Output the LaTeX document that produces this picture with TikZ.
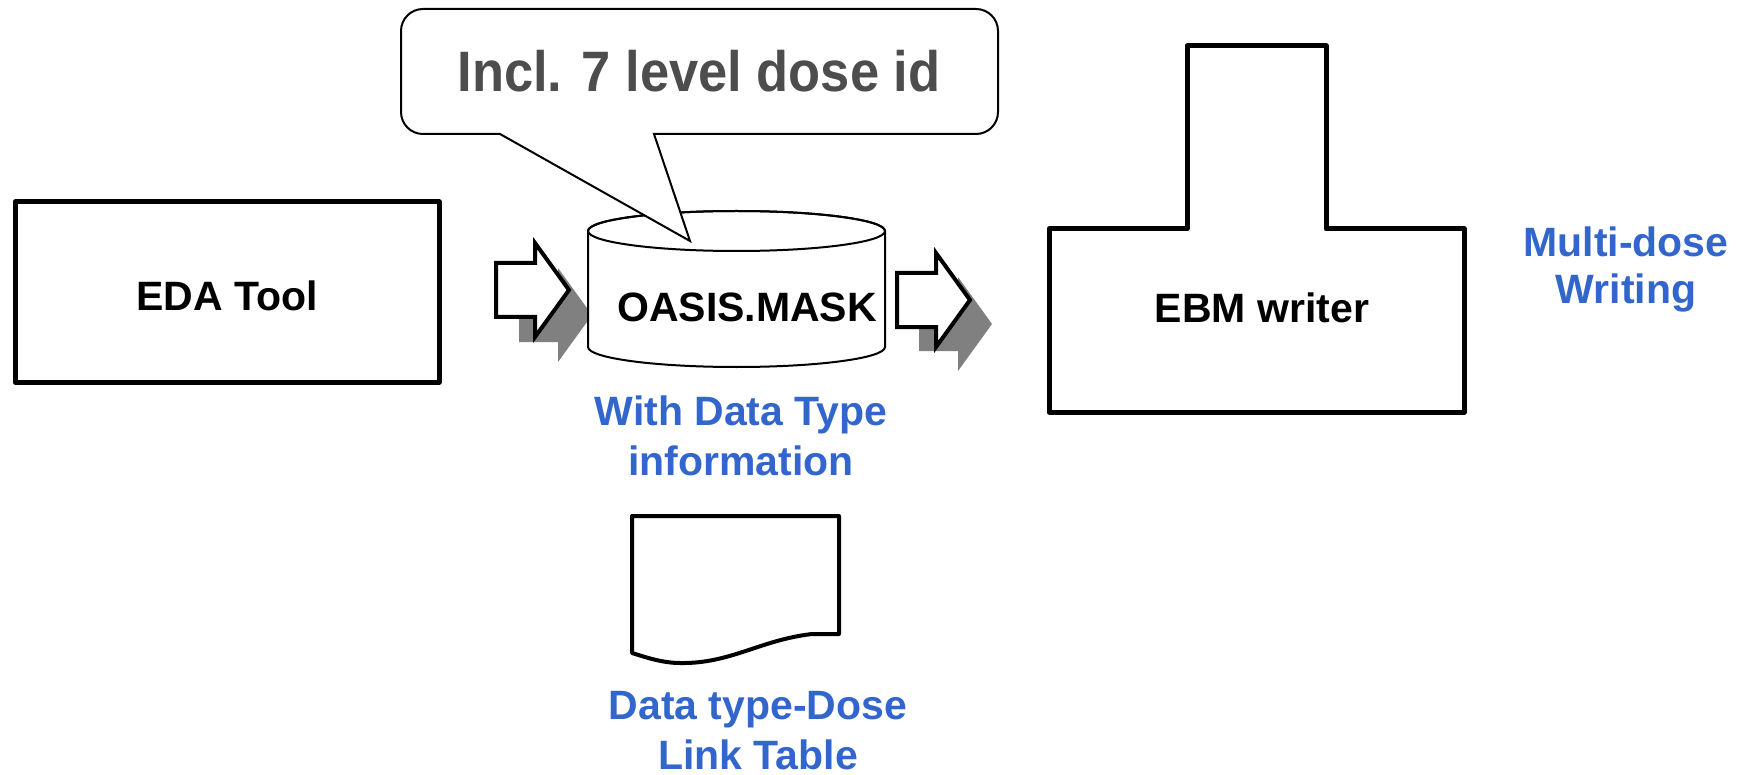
\documentclass[tikz,border=0pt]{standalone}
\usepackage{fontspec}
\setmainfont{Liberation Sans}
\definecolor{labelblue}{RGB}{51,102,204}
\definecolor{calloutgray}{RGB}{77,77,77}
\definecolor{shadowgray}{RGB}{128,128,128}
\tikzset{
  blacktext/.style={font=\fontsize{41}{49}\selectfont\bfseries, inner sep=0pt},
  bluetext/.style={font=\fontsize{41}{50}\selectfont\bfseries, text=labelblue, align=center, inner sep=0pt},
  thickbox/.style={draw=black, line width=5pt, line join=round, fill=white},
  arrowbody/.style={draw=black, line width=4pt, fill=white},
  arrowshadow/.style={fill=shadowgray, draw=none},
  thinline/.style={draw=black, line width=2pt, fill=white},
  blockarrow/.pic={\path[pic actions] (0,27) -- (39,27) -- (39,47) -- (73,0) -- (39,-47) -- (39,-27) -- (0,-27) -- cycle;}
}
\begin{document}
\begin{tikzpicture}[x=1pt,y=1pt]
\useasboundingbox (0,0) rectangle (1744,-775);

% EDA tool box
\draw[thickbox] (15,-202) rectangle (439,-382);
\node[blacktext, anchor=base] (eda) at (227,-311) {EDA Tool};

% arrow shadows
\pic[arrowshadow] at (519,-315) {blockarrow};
\pic[arrowshadow] at (919,-324) {blockarrow};

% cylinder OASIS.MASK
\path[thinline] (588,-231) -- (588,-347) arc[start angle=180, end angle=360, x radius=148.5, y radius=20] -- (885,-231) arc[start angle=0, end angle=180, x radius=148.5, y radius=20] -- cycle;
\draw[line width=2pt] (736.5,-231) ellipse [x radius=148.5, y radius=20];
\node[blacktext, anchor=base] (oasis) at (747,-322) {OASIS.MASK};

% block arrows
\pic[arrowbody] at (496,-290) {blockarrow};
\pic[arrowbody] at (897,-300) {blockarrow};

% callout
\path[thinline] (654,-134) [rounded corners=22pt] -- (998,-134) -- (998,-9) -- (401,-9) -- (401,-134) [sharp corners] -- (500,-134) -- (690,-241) -- cycle;
\node[font=\fontsize{57}{64}\selectfont\bfseries, text=calloutgray, inner sep=0pt, anchor=base, xscale=0.92] (callout) at (699,-92) {Incl. 7 level dose id};

% EBM writer
\path[thickbox] (1049,-229) -- (1187,-229) -- (1187,-46) -- (1326,-46) -- (1326,-229) -- (1464,-229) -- (1464,-412) -- (1049,-412) -- cycle;
\node[blacktext, anchor=base] (ebm) at (1262,-323) {EBM writer};

% document shape
\path[draw=black, line width=4pt, line join=round, fill=white] (632,-516) -- (839,-516) -- (839,-634) -- (812,-634) .. controls (760,-640) and (730,-664) .. (680,-663) .. controls (662,-663) and (645,-657) .. (632,-653) -- cycle;

% blue labels
\node[bluetext, anchor=base] (withdata) at (741,-475) {With Data Type\\information};
\node[bluetext, anchor=base] (linktable) at (758,-769) {Data type-Dose\\Link Table};
\node[bluetext, anchor=base, font=\fontsize{41}{47}\selectfont\bfseries] (multidose) at (1626,-304) {Multi-dose\\Writing};
\end{tikzpicture}
\end{document}
